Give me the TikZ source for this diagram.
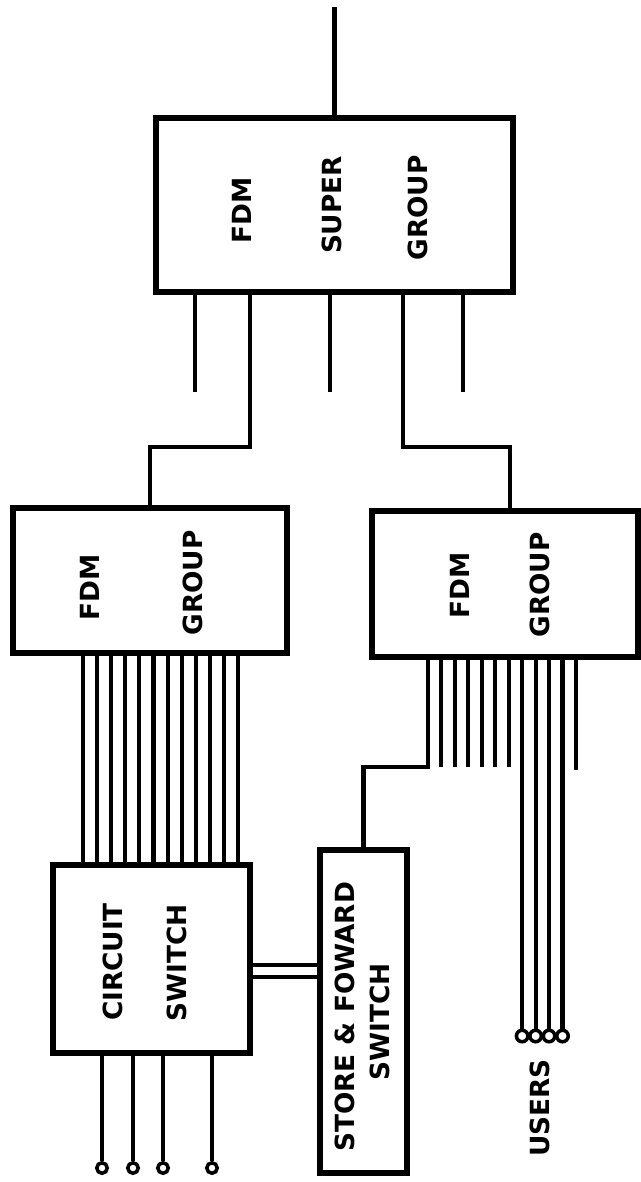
\documentclass[tikz,border=0pt]{standalone}
\usepackage{fontspec}
\setmainfont{DejaVu Sans}
\usepackage{tikz}
\tikzset{
    box_node/.style = {rectangle, draw=black, line width=3pt, inner sep=0pt},
    txt_node/.style = {rotate=90, inner sep=0pt, font=\fontsize{15}{18}\selectfont\bfseries},
    wire/.style = {line width=2.3pt},
    term_node/.style = {circle, draw=black, fill=white, line width=2pt, inner sep=0pt, minimum size=0.21cm},
    user_node/.style = {term_node, minimum size=0.23cm}
}

\begin{document}
\begin{tikzpicture}
            [x=0.02cm, y=-0.02cm, line cap=butt]

            \useasboundingbox (0,0) rectangle (641,1182);

            % boxes
            \node [box_node, minimum width=7.14cm, minimum height=3.48cm] (sgroup) at (334.5,205) {};
            \node [box_node, minimum width=5.48cm, minimum height=2.9cm] (grpA) at (150,580.5) {};
            \node [box_node, minimum width=5.32cm, minimum height=2.92cm] (grpB) at (505,584) {};
            \node [box_node, minimum width=3.94cm, minimum height=3.76cm] (cswitch) at (151.5,959) {};
            \node [box_node, minimum width=1.74cm, minimum height=6.46cm] (sfswitch) at (363.5,1011.5) {};

            % labels
            \node [txt_node] (sgFDM) at (242,210) {FDM};
            \node [txt_node] (sgSUPER) at (332,205) {SUPER};
            \node [txt_node] (sgGROUP) at (418,208) {GROUP};
            \node [txt_node] (gaFDM) at (90,587) {FDM};
            \node [txt_node] (gaGROUP) at (193,583) {GROUP};
            \node [txt_node] (gbFDM) at (460,585) {FDM};
            \node [txt_node] (gbGROUP) at (540,585) {GROUP};
            \node [txt_node] (csCIRCUIT) at (113,962) {CIRCUIT};
            \node [txt_node] (csSWITCH) at (177,963) {SWITCH};
            \node [txt_node] (sfSTORE) at (345,1017) {STORE \& FOWARD};
            \node [txt_node] (sfSWITCH) at (380,1022) {SWITCH};
            \node [txt_node] (users) at (540,1108) {USERS};

            % super group
            \coordinate (top) at (332,7);
            \draw [wire] (sgroup.north) -- (sgroup.north |- top);
            \foreach \x in {195,330,463}
                \draw [wire] (sgroup.south -| \x,0) -- (\x,392);
            \draw [wire] (sgroup.south -| 250,0) |- (grpA.north |- 0,447) -- (grpA.north);
            \draw [wire] (sgroup.south -| 403,0) |- (510,447) -- (grpB.north -| 510,0);

            % group A to circuit switch
            \foreach \i in {0,...,11} {
                \coordinate (a\i) at ({83+14.1*\i},0);
                \draw [wire] (grpA.south -| a\i) -- (cswitch.north -| a\i);
            }

            % circuit switch terminals
            \foreach \x [count=\i] in {102,133,163,212} {
                \node [term_node] (c\i) at (\x,1168) {};
                \draw [wire] (cswitch.south -| c\i) -- (c\i.north);
            }

            % circuit switch to store & foward
            \draw [wire, double, double distance=0.17cm] (cswitch.east |- 0,971) -- (sfswitch.west |- 0,971);

            % group B
            \foreach \i in {0,...,11}
                \coordinate (b\i) at ({428+13.45*\i},0);
            \draw [wire] (grpB.south -| b0) |- (sfswitch.north |- 0,767) -- (sfswitch.north);
            \foreach \i in {1,...,6}
                \draw [wire] (grpB.south -| b\i) -- (b\i |- 0,767);
            \draw [wire] (grpB.south -| b11) -- (b11 |- 0,770);
            \foreach \i in {7,...,10} {
                \node [user_node] (u\i) at (b\i |- 0,1036) {};
                \draw [wire] (grpB.south -| b\i) -- (u\i.north);
            }

\end{tikzpicture}
\end{document}
